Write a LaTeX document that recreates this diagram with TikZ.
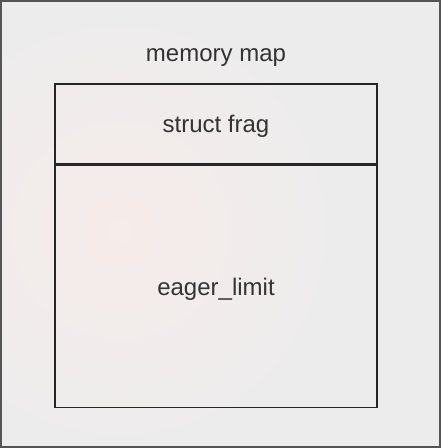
\documentclass[tikz,border=0pt]{standalone}
\usepackage{fontspec}
\setmainfont{Liberation Sans}
\usetikzlibrary{positioning}
\definecolor{bggray}{HTML}{ECECED}
\definecolor{glow}{HTML}{F6ECE9}
\definecolor{inkgray}{HTML}{333333}
\definecolor{framegray}{HTML}{555555}
\tikzset{
  mapbox/.style={draw=black!85, line width=1.1pt, minimum width=241.5pt, inner sep=0pt},
  maptext/.style={text=inkgray, inner sep=0pt, anchor=base}
}
\begin{document}
\begin{tikzpicture}[x=0.75pt,y=-0.75pt,font=\fontsize{18}{21}\selectfont]
    \useasboundingbox (0,0) rectangle (441,448);

    %Background
    \fill[bggray] (0,0) rectangle (441,448);
    \shade[inner color=glow, outer color=bggray] (120,230) circle(240);
    \draw[framegray, line width=1pt] (1,1) rectangle (440,447);

    % Memory map
    \node[mapbox, minimum height=60pt] (frag) at (216,124) {};
    \node[mapbox, minimum height=181.5pt, below=0pt of frag] (eager) {};

    % Labels
    \node[maptext] (title) at (216,62) {memory map};
    \node[maptext] (fragtext) at (216,133) {struct frag};
    \node[maptext] (eagertext) at (216,295) {eager\_limit};
\end{tikzpicture}
\end{document}
